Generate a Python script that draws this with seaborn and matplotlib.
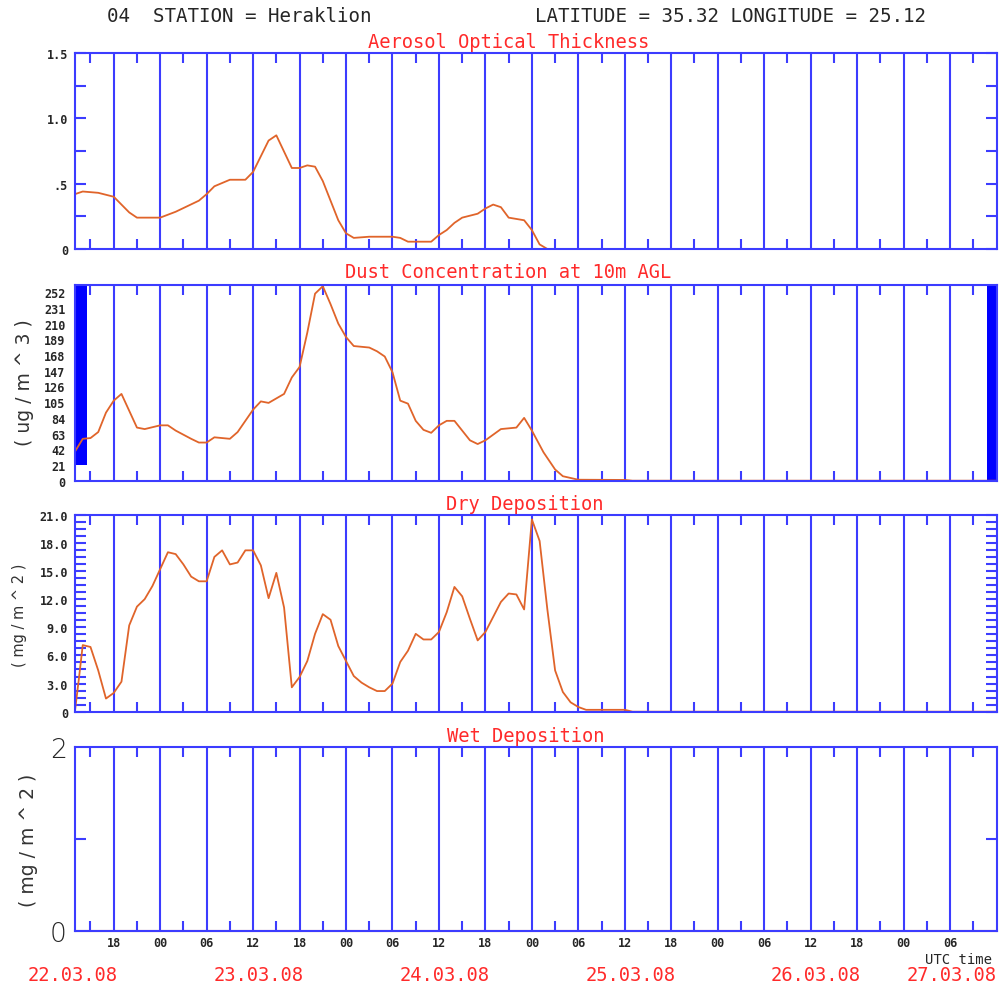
import numpy as np
import pandas as pd
import seaborn as sns
import matplotlib.pyplot as plt
from matplotlib.ticker import FixedLocator

# hours after 22.03.08 12 UTC
aot_hours = [1, 2, 4, 6, 8, 9, 12, 14, 17, 18, 19, 21, 23, 24, 26, 27, 29, 30, 31, 32,
             33, 34, 35, 36, 37, 39, 42, 43, 44, 47, 48, 49, 50, 51, 53, 54, 55, 56, 57, 59,
             60, 61, 62, 120]
aot = [0.42, 0.44, 0.43, 0.40, 0.28, 0.24, 0.24, 0.285, 0.37, 0.42, 0.48, 0.53, 0.53, 0.59,
       0.83, 0.87, 0.62, 0.62, 0.64, 0.63, 0.52, 0.37, 0.22, 0.12, 0.085, 0.094, 0.094, 0.085,
       0.056, 0.056, 0.107, 0.145, 0.20, 0.24, 0.27, 0.31, 0.34, 0.32, 0.24, 0.22, 0.145, 0.035,
       0.0, 0.0]

dust_hours = [1, 2, 3, 4, 5, 6, 7, 9, 10, 12, 13, 14, 16, 17, 18, 19, 21, 22, 23, 24,
              25, 26, 27, 28, 29, 30, 31, 32, 33, 34, 35, 36, 37, 39, 40, 41, 42, 43, 44, 45,
              46, 47, 48, 49, 50, 51, 52, 53, 54, 56, 58, 59, 60, 61.5, 63, 64, 66, 72, 73, 120]
dust = [39, 56, 57, 65, 91, 107, 116, 71, 69, 74, 74, 67, 56, 51, 51, 58, 56, 65, 80, 95,
        106, 104, 110, 116, 138, 152, 198, 250, 260, 236, 210, 192, 180, 178, 173, 166, 145, 107, 103, 80,
        68, 64, 74, 80, 80, 67, 54, 49, 54, 69, 71, 84, 67, 38, 15, 6, 1.3, 1, 0, 0]

# blue bars in the dust panel
bar_start = [1, 118.8]
bar_width = [1.5, 1.2]
bar_bottom = [21, 0]
bar_top = [262, 262]

dry_hours = [1, 1.5, 2, 3, 4, 5, 6, 7, 8, 9, 10, 11, 12, 13, 14, 15, 16, 17, 18, 19,
             20, 21, 22, 23, 24, 25, 26, 27, 28, 29, 30, 31, 32, 33, 34, 35, 36, 37, 38, 39,
             40, 41, 42, 43, 44, 45, 46, 47, 48, 49, 50, 51, 52, 53, 54, 55, 56, 57, 58, 59,
             60, 61, 62, 63, 64, 65, 66, 67, 72, 73, 120]
dry = [0.1, 3.5, 7.1, 6.9, 4.4, 1.4, 2.0, 3.2, 9.2, 11.2, 12.0, 13.4, 15.2, 17.0, 16.8, 15.7,
       14.4, 13.9, 13.9, 16.5, 17.2, 15.7, 15.9, 17.2, 17.2, 15.6, 12.1, 14.8, 11.1, 2.6, 3.7,
       5.4, 8.3, 10.4, 9.8, 7.0, 5.4, 3.8, 3.1, 2.6, 2.2, 2.2, 3.0, 5.3, 6.5, 8.3, 7.7, 7.7,
       8.5, 10.6, 13.3, 12.3, 9.9, 7.6, 8.5, 10.1, 11.7, 12.6, 12.5, 10.9, 20.5, 18.2, 10.9,
       4.4, 2.1, 1.0, 0.5, 0.2, 0.2, 0.0, 0.0]

wet_hours = [1, 120]
wet = [0, 0]

hour_labels = ["18", "00", "06", "12", "18", "00", "06", "12", "18", "00",
               "06", "12", "18", "00", "06", "12", "18", "00", "06"]
date_labels = ["22.03.08", "23.03.08", "24.03.08", "25.03.08", "26.03.08", "27.03.08"]

titles = ["Aerosol Optical Thickness", "Dust Concentration at 10m AGL",
          "Dry Deposition", "Wet Deposition"]

sns.set_style("white")
plt.rcParams['font.family'] = ['DejaVu Sans Mono', 'DejaVu Sans']

BLUE = "#3c3cff"
ORANGE = "#e0642a"
RED = "#ff2a2a"

W, H = 1002, 987
fig = plt.figure(figsize=(W / 100, H / 100), dpi=100)

# (top, bottom) of each panel in pixels
rows = [(54, 250), (285.7, 481.7), (515.7, 712.7), (748.3, 931.7)]
left, right = 75, 996.5
axes = []
for top, bot in rows:
    ax = fig.add_axes([left / W, 1 - bot / H, (right - left) / W, (bot - top) / H])
    axes.append(ax)

major = np.arange(6, 120, 6)
minor = np.arange(3, 120, 6)

for i, ax in enumerate(axes):
    ax.set_xlim(1, 120)
    for sp in ax.spines.values():
        sp.set_color(BLUE)
        sp.set_linewidth(1.5)
    ax.xaxis.set_major_locator(FixedLocator(major))
    ax.xaxis.set_minor_locator(FixedLocator(minor))
    ax.grid(True, axis='x', which='major', color=BLUE, linewidth=1.5)
    ax.tick_params(axis='x', which='major', length=0, pad=4, labelsize=8.5)
    ax.tick_params(axis='x', which='minor', direction='in', top=True, bottom=True,
                   length=7, width=1.5, color=BLUE)
    ax.tick_params(axis='y', which='both', direction='in', left=True, right=True,
                   length=8, width=1.5, color=BLUE, labelsize=8.5, pad=5)
    if i < 3:
        ax.set_xticklabels([])
    else:
        ax.set_xticklabels(hour_labels, fontweight='bold')

# panel 1
ax = axes[0]
sns.lineplot(x=aot_hours, y=aot, ax=ax, color=ORANGE, linewidth=1.3)
ax.set_ylim(0, 1.5)
ax.set_yticks([0, 0.5, 1.0, 1.5])
ax.set_yticklabels(["0", ".5", "1.0", "1.5"], fontweight='bold')
ax.yaxis.set_minor_locator(FixedLocator([0.25, 0.75, 1.25]))

# panel 2
ax = axes[1]
ax.bar(bar_start, np.array(bar_top) - np.array(bar_bottom), bottom=bar_bottom,
       width=bar_width, align='edge', color="#0000ff", linewidth=0)
sns.lineplot(x=dust_hours, y=dust, ax=ax, color=ORANGE, linewidth=1.3)
ax.set_ylim(0, 262)
ax.set_yticks(np.arange(0, 253, 21))
ax.set_yticklabels([str(v) for v in range(0, 253, 21)], fontweight='bold')
ax.tick_params(axis='y', which='both', length=0, pad=7)

# panel 3
ax = axes[2]
sns.lineplot(x=dry_hours, y=dry, ax=ax, color=ORANGE, linewidth=1.3)
ax.set_ylim(0, 21)
ax.set_yticks(np.arange(0, 22, 3))
ax.set_yticklabels(["0"] + ["%.1f" % v for v in range(3, 22, 3)], fontweight='bold')
ax.yaxis.set_minor_locator(FixedLocator(np.arange(0.75, 21, 0.75)))

# panel 4
ax = axes[3]
sns.lineplot(x=wet_hours, y=wet, ax=ax, color=ORANGE, linewidth=1.5, clip_on=False)
ax.set_ylim(0, 2)
ax.set_yticks([0, 2])
ax.set_yticklabels(["0", "2"], fontsize=19, family='DejaVu Sans', fontweight='light')
ax.yaxis.set_minor_locator(FixedLocator([1]))
ax.tick_params(axis='y', which='major', length=0, pad=6)

for ax in axes:
    if ax.get_legend() is not None:
        ax.get_legend().remove()
    ax.set_xlabel("")
    ax.set_ylabel("")

# titles
for txt, (cx, cy) in zip(titles, [(509, 43), (508, 273), (525, 505), (526, 737)]):
    fig.text(cx / W, 1 - cy / H, txt, color=RED, fontsize=13.5, ha='center', va='center')

# header
fig.text(107 / W, 1 - 17 / H, "04  STATION = Heraklion", fontsize=13.8, va='center', ha='left')
fig.text(535 / W, 1 - 17 / H, "LATITUDE = 35.32 LONGITUDE = 25.12", fontsize=13.8,
         va='center', ha='left')

# y labels
fig.text(25 / W, 1 - 383 / H, "( ug / m ^ 3 )", rotation=90, family='DejaVu Sans',
         fontsize=13.5, ha='center', va='center', color='#333333')
fig.text(20 / W, 1 - 615 / H, "( mg / m ^ 2 )", rotation=90, family='DejaVu Sans',
         fontsize=10.5, ha='center', va='center', color='#333333')
fig.text(29 / W, 1 - 840 / H, "( mg / m ^ 2 )", rotation=90, family='DejaVu Sans',
         fontsize=13.5, ha='center', va='center', color='#333333')

# dates under the time axis, centred on 12 UTC of each day
ax = axes[3]
for k, d in enumerate(date_labels[:-1]):
    ax.text(24 * k + 0.7, -0.48, d, color=RED, fontsize=13.5, ha='center', va='center',
            clip_on=False)
fig.text(907 / W, 1 - 976 / H, date_labels[-1], color=RED, fontsize=13.5, ha='left', va='center')

fig.text(992 / W, 1 - 960 / H, "UTC time", fontsize=10, ha='right', va='center')

fig.savefig("out.png", dpi=100)
